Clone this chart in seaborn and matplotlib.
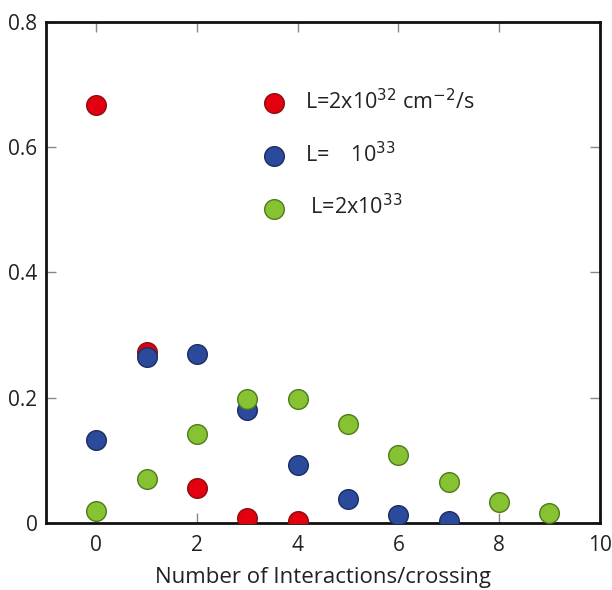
import seaborn as sns
import matplotlib.pyplot as plt
import pandas as pd

# probabilities
n_red = [0, 1, 2, 3, 4]
p_red = [0.667, 0.272, 0.055, 0.008, 0.002]
n_blue = [0, 1, 2, 3, 4, 5, 6, 7]
p_blue = [0.132, 0.265, 0.270, 0.180, 0.093, 0.038, 0.013, 0.003]
n_green = [0, 1, 2, 3, 4, 5, 6, 7, 8, 9]
p_green = [0.018, 0.070, 0.142, 0.197, 0.197, 0.158, 0.108, 0.065, 0.033, 0.015]

labels = [r'L=2x10$^{32}$ cm$^{-2}$/s', r'L=    10$^{33}$', r' L=2x10$^{33}$']
colors = ['#e3000f', '#2b4a9c', '#86c232']
edges = ['#8a1010', '#1c2d60', '#4f7a1c']

sns.set_style('white')
plt.rcParams['font.family'] = ['Open Sans', 'DejaVu Sans']

fig = plt.figure(figsize=(6.12, 5.9), dpi=100)
ax = fig.add_axes([0.075, 0.114, 0.905, 0.849])

series = [(n_red, p_red), (n_blue, p_blue), (n_green, p_green)]
for (n, p), lab, c, e in zip(series, labels, colors, edges):
    df = pd.DataFrame({'n': n, 'p': p})
    sns.scatterplot(data=df, x='n', y='p', ax=ax, color=c, edgecolor=e,
                    linewidth=1.0, s=200, label=lab, zorder=3)

ax.set_xlim(-1, 10)
ax.set_ylim(0, 0.8)
ax.set_xticks([0, 2, 4, 6, 8, 10])
ax.set_yticks([0, 0.2, 0.4, 0.6, 0.8])
ax.set_yticklabels(['0', '0.2', '0.4', '0.6', '0.8'])
ax.set_xlabel('Number of Interactions/crossing', fontsize=16, color='#222222',
              labelpad=8)
ax.set_ylabel('')
ax.tick_params(direction='in', length=7, width=1, colors='#888888',
               labelcolor='#222222', labelsize=15, top=True, right=True,
               bottom=True, left=True)
ax.tick_params(axis='x', pad=9)
ax.tick_params(axis='y', pad=6)
for sp in ax.spines.values():
    sp.set_color('#111111')
    sp.set_linewidth(2)

leg = ax.legend(loc='upper left', bbox_to_anchor=(0.338, 0.905), frameon=False,
                fontsize=15.5, labelspacing=1.28, handletextpad=0.45,
                markerscale=1.0)
for t in leg.get_texts():
    t.set_color('#222222')

fig.savefig('out.png', dpi=100, facecolor='white')
